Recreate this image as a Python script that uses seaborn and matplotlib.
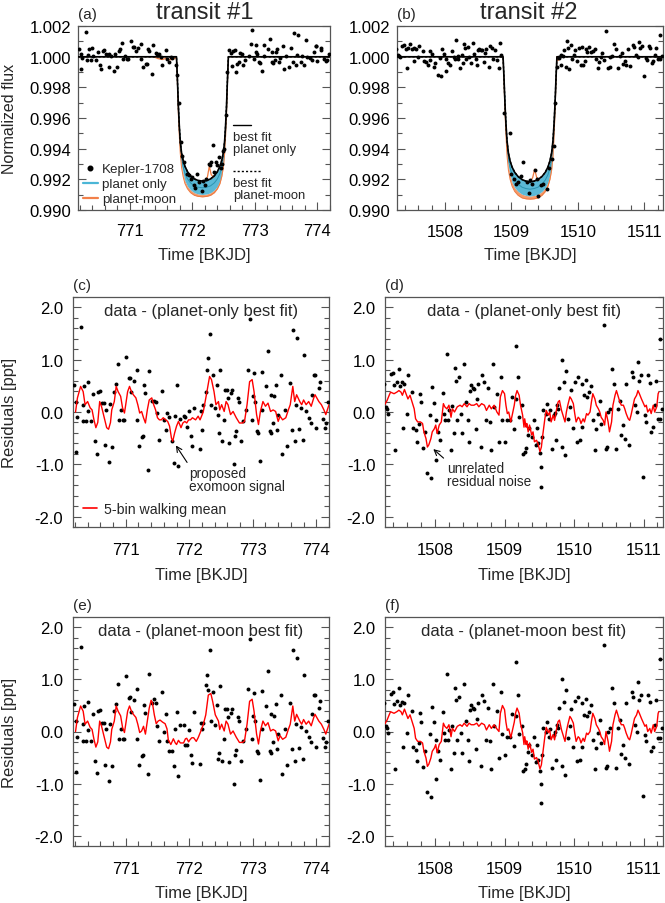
import matplotlib
matplotlib.use("Agg")
import matplotlib.pyplot as plt
from matplotlib.lines import Line2D
from matplotlib.ticker import MultipleLocator, FormatStrFormatter
import seaborn as sns

# ---------------- data ----------------
# transit 1: residual time stamps [BKJD] and residuals [ppt]
t1 = [770.19, 770.21, 770.22, 770.24, 770.29, 770.32, 770.33, 770.35, 770.38, 770.40,
      770.41, 770.45, 770.49, 770.52, 770.54, 770.57, 770.59, 770.62, 770.66, 770.67,
      770.69, 770.74, 770.76, 770.79, 770.82, 770.84, 770.88, 770.89, 770.92, 770.95,
      770.97, 771.01, 771.05, 771.06, 771.09, 771.13, 771.17, 771.18, 771.21, 771.25,
      771.27, 771.29, 771.30, 771.35, 771.37, 771.41, 771.44, 771.47, 771.50, 771.52,
      771.57, 771.60, 771.63, 771.65, 771.68, 771.73, 771.76, 771.78, 771.81, 771.83,
      771.86, 771.91, 771.94, 771.97, 771.99, 772.02, 772.04, 772.07, 772.17, 772.18,
      772.20, 772.22, 772.26, 772.28, 772.30, 772.33, 772.35, 772.38, 772.40, 772.43,
      772.46, 772.47, 772.49, 772.51, 772.54, 772.56, 772.59, 772.61, 772.63, 772.65,
      772.68, 772.70, 772.72, 772.74, 772.76, 772.79, 772.81, 772.84, 772.90, 772.93,
      772.95, 772.98, 773.01, 773.02, 773.03, 773.07, 773.08, 773.11, 773.14, 773.15,
      773.21, 773.24, 773.27, 773.28, 773.29, 773.32, 773.33, 773.36, 773.38, 773.40,
      773.45, 773.46, 773.50, 773.54, 773.58, 773.61, 773.63, 773.66, 773.68, 773.69,
      773.73, 773.76, 773.79, 773.81, 773.84, 773.88, 773.92, 773.94, 773.97, 773.98,
      773.99, 774.05, 774.06, 774.10, 774.13, 774.15, 774.18]
res1_planet = [0.52, 0.20, -0.77, -0.10, 1.63, -0.18, 0.14, 0.49, -0.18, 0.57,
               0.02, -0.18, 0.34, -0.56, -0.80, 0.39, 0.41, 0.17, 0.17, -0.64,
               0.04, -0.96, 0.15, -0.67, 0.39, 0.53, 0.92, -0.15, 0.04, -0.15,
               -0.15, 1.06, 0.65, 0.66, 0.38, 0.60, -0.15, 0.81, -0.65, -0.48,
               -0.46, 0.51, 0.36, -1.10, 0.79, 0.22, 0.21, 0.20, -0.02, -0.53,
               0.41, -0.15, -0.34, -0.02, -0.10, -0.56, -0.97, -0.08, 0.52, -1.03,
               -0.13, -0.08, -0.10, -0.29, 0.02, -0.46, -0.65, 0.08, -0.70, 0.01,
               -0.34, 0.14, 0.39, 0.81, 1.03, 1.50, 0.14, 0.71, 0.08, 0.51,
               -0.05, -0.41, 0.81, -0.56, -0.15, 0.43, 0.43, 0.27, -0.59, 0.36,
               0.43, -1.00, -0.46, -0.36, 0.27, 0.20, -0.56, -0.18, 0.04, 0.81,
               1.78, -0.15, 0.30, 0.74, 0.20, -0.37, -0.41, -0.94, 0.77, 0.04,
               0.49, 1.16, -0.37, 0.33, -0.41, -0.21, 0.30, 0.52, -0.34, -0.05,
               0.71, -0.81, 0.04, -0.65, 0.55, -0.34, 1.57, -0.56, 0.14, 1.41,
               -0.32, 0.08, -0.53, 1.09, 0.01, -0.11, -0.21, 0.33, 0.71, 0.70,
               -0.30, 0.46, 0.58, -0.13, -0.30, -0.21, 0.20]
res1_moon = [0.52, 0.20, -0.77, -0.10, 1.63, -0.18, 0.14, 0.49, -0.18, 0.57,
             0.02, -0.18, 0.34, -0.56, -0.80, 0.39, 0.41, 0.17, 0.17, -0.64,
             0.04, -0.96, 0.15, -0.67, 0.39, 0.53, 0.92, -0.15, 0.04, -0.15,
             -0.15, 1.06, 0.65, 0.66, 0.38, 0.60, -0.15, 0.81, -0.65, -0.48,
             -0.46, 0.51, 0.36, -0.81, 1.11, 0.55, 0.63, 0.55, 0.10, -0.19,
             0.75, 0.00, 0.33, -0.19, -0.38, -0.38, -0.67, 0.05, 0.38, -0.86,
             0.13, 0.13, -0.25, -0.25, 0.02, -0.46, -0.60, 0.37, -0.63, 0.17,
             0.05, 0.17, 0.89, 1.08, 0.80, 1.56, 0.20, 0.75, 0.12, 0.51,
             -0.52, -0.41, 0.87, -0.56, -0.15, 0.43, 0.43, 0.27, -0.59, 0.36,
             0.43, -1.00, -0.46, -0.36, 0.27, 0.20, -0.56, -0.18, 0.04, 0.81,
             1.78, -0.15, 0.30, 0.74, 0.20, -0.37, -0.41, -0.94, 0.77, 0.04,
             0.49, 1.16, -0.37, 0.33, -0.41, -0.21, 0.30, 0.52, -0.34, -0.05,
             0.71, -0.81, 0.04, -0.65, 0.55, -0.34, 1.57, -0.56, 0.14, 1.41,
             -0.32, 0.08, -0.53, 1.09, 0.01, -0.11, -0.21, 0.33, 0.71, 0.70,
             -0.30, 0.46, 0.58, -0.13, -0.30, -0.21, 0.20]

# transit 1: normalized flux (out of transit points share the residual time stamps)
flux1_before = [1.00052, 1.00020, 0.99923, 0.99990, 1.00163, 0.99982, 1.00014, 1.00049, 0.99982, 1.00057,
                1.00002, 0.99982, 1.00034, 0.99944, 0.99920, 1.00039, 1.00041, 1.00017, 1.00017, 0.99936,
                1.00004, 0.99904, 1.00015, 0.99933, 1.00039, 1.00053, 1.00092, 0.99985, 1.00004, 0.99985,
                0.99985, 1.00106, 1.00065, 1.00066, 1.00038, 1.00060, 0.99985, 1.00081, 0.99935, 0.99952,
                0.99954, 1.00051, 1.00036, 0.99890, 1.00079, 1.00022, 1.00021, 1.00020, 0.99998, 0.99947,
                1.00041, 0.99985, 0.99966, 0.99998, 0.99990, 0.99944]
t1_transit = [771.76, 771.78, 771.81, 771.83, 771.86, 771.91, 771.94, 771.97, 771.99, 772.02,
              772.04, 772.07, 772.11, 772.15, 772.17, 772.20, 772.22, 772.26, 772.28, 772.30,
              772.33, 772.35, 772.38, 772.40, 772.42, 772.45, 772.47, 772.49, 772.51, 772.54, 772.56]
flux1_transit = [0.99880, 0.99700, 0.99440, 0.99350, 0.99310, 0.99235, 0.99230, 0.99200, 0.99215, 0.99160,
                 0.99140, 0.99235, 0.99180, 0.99126, 0.99188, 0.99160, 0.99200, 0.99300, 0.99290, 0.99310,
                 0.99424, 0.99250, 0.99311, 0.99290, 0.99344, 0.99272, 0.99300, 0.99387, 0.99400, 0.99620, 0.99900]
flux1_after = [1.00043, 1.00027, 0.99941, 1.00036,
               1.00043, 0.99900, 0.99954, 0.99964, 1.00027, 1.00020, 0.99944, 0.99982, 1.00004, 1.00081,
               1.00178, 0.99985, 1.00030, 1.00074, 1.00020, 0.99963, 0.99959, 0.99906, 1.00077, 1.00004,
               1.00049, 1.00116, 0.99963, 1.00033, 0.99959, 0.99979, 1.00030, 1.00052, 0.99966, 0.99995,
               1.00071, 0.99919, 1.00004, 0.99935, 1.00055, 0.99966, 1.00157, 0.99944, 1.00014, 1.00141,
               0.99968, 1.00008, 0.99947, 1.00109, 1.00001, 0.99989, 0.99979, 1.00033, 1.00071, 1.00070,
               0.99970, 1.00046, 1.00058, 0.99987, 0.99970, 0.99979, 1.00020]

# transit 2: residual time stamps and residuals [ppt]
t2 = [1507.27, 1507.29, 1507.31, 1507.32, 1507.36, 1507.39, 1507.41, 1507.43, 1507.45, 1507.48,
      1507.50, 1507.53, 1507.54, 1507.56, 1507.59, 1507.61, 1507.67, 1507.69, 1507.72, 1507.74,
      1507.77, 1507.78, 1507.80, 1507.83, 1507.85, 1507.89, 1507.93, 1507.94, 1507.96, 1507.99,
      1508.01, 1508.02, 1508.04, 1508.07, 1508.11, 1508.13, 1508.15, 1508.17, 1508.19, 1508.20,
      1508.23, 1508.25, 1508.27, 1508.28, 1508.30, 1508.32, 1508.35, 1508.37, 1508.39, 1508.42,
      1508.44, 1508.47, 1508.49, 1508.50, 1508.52, 1508.54, 1508.56, 1508.59, 1508.60, 1508.62,
      1508.66, 1508.68, 1508.71, 1508.73, 1508.76, 1508.79, 1508.81, 1508.83, 1508.85, 1508.89,
      1508.92, 1508.95, 1508.97, 1509.00, 1509.04, 1509.08, 1509.11, 1509.14, 1509.16, 1509.17,
      1509.19, 1509.21, 1509.25, 1509.26, 1509.30, 1509.31, 1509.34, 1509.35, 1509.39, 1509.42,
      1509.45, 1509.47, 1509.48, 1509.51, 1509.52, 1509.53, 1509.54, 1509.56, 1509.59, 1509.61,
      1509.64, 1509.66, 1509.69, 1509.71, 1509.72, 1509.74, 1509.75, 1509.77, 1509.79, 1509.82,
      1509.83, 1509.85, 1509.87, 1509.89, 1509.91, 1509.94, 1509.96, 1509.98, 1510.01, 1510.04,
      1510.06, 1510.08, 1510.11, 1510.12, 1510.14, 1510.17, 1510.19, 1510.22, 1510.25, 1510.27,
      1510.30, 1510.32, 1510.35, 1510.37, 1510.39, 1510.43, 1510.46, 1510.48, 1510.49, 1510.52,
      1510.55, 1510.57, 1510.60, 1510.63, 1510.66, 1510.68, 1510.71, 1510.73, 1510.75, 1510.79,
      1510.83, 1510.85, 1510.87, 1510.90, 1510.92, 1510.94, 1510.97, 1510.99, 1511.02, 1511.04,
      1511.07, 1511.09, 1511.11, 1511.13, 1511.16, 1511.18, 1511.21, 1511.23, 1511.24, 1511.27]
res2_planet = [0.54, 0.10, 0.06, -0.03, 0.73, 0.75, 0.52, -0.73, 0.58, 0.83,
               0.50, 0.57, -0.30, 0.54, -0.03, 0.71, 0.39, -0.30, -0.35, -0.57,
               -0.22, 0.35, 0.19, -0.69, -0.38, -1.17, -0.05, -1.26, 0.48, 0.18,
               -0.92, -0.16, -0.38, -0.54, 0.37, -0.03, -0.16, 1.11, -0.16, 0.03,
               -0.73, 0.11, -0.41, 0.84, 0.60, -0.16, 0.67, -0.03, -0.41, 0.92,
               0.20, -0.16, -0.57, 0.41, 0.51, 0.45, 0.44, -0.33, 0.24, 0.54,
               -0.67, 0.71, 0.58, -0.16, 0.46, -0.19, -0.73, 0.92, 0.10, 0.35,
               -0.57, 0.67, -0.16, -0.57, -0.16, -0.16, 0.29, -0.33, 1.27, 0.25,
               0.67, -0.10, 0.13, -0.81, -0.76, -0.69, -0.44, -0.30, -0.48, -0.16,
               -0.63, -0.30, -0.60, -0.79, -1.05, -1.43, -0.48, 0.03, -0.03, 0.16,
               -0.13, 0.03, -0.70, -0.06, -0.01, -0.54, 0.13, 0.06, 0.46, -0.67,
               1.00, 0.57, -0.83, 0.79, -0.13, 0.10, 0.43, -0.30, 0.58, -0.57,
               0.67, -0.54, -0.29, 0.54, 0.32, 0.62, 0.29, 0.38, 0.50, -0.16,
               -0.73, -0.32, -0.03, 0.22, -0.22, 1.66, -0.71, -0.67, 0.00, 0.06,
               0.83, 0.54, -0.71, 0.06, 0.22, -0.44, -0.25, -0.51, 0.54, -0.63,
               0.76, 0.67, 0.13, 0.00, 0.95, 0.60, 0.70, -1.24, -0.06, -0.19,
               0.70, 0.56, -0.38, -0.29, 0.13, 0.60, -0.13, 1.40, -0.13, 0.06]
res2_moon = [0.54, 0.10, 0.06, -0.03, 0.73, 0.75, 0.52, -0.73, 0.58, 0.83,
             0.50, 0.57, -0.30, 0.54, -0.03, 0.71, 0.39, -0.30, -0.35, -0.57,
             -0.22, 0.35, 0.19, -0.69, -0.38, -1.17, -0.05, -1.26, 0.48, 0.18,
             -0.92, -0.16, -0.38, -0.54, 0.37, -0.03, -0.16, 1.11, -0.16, 0.03,
             -0.73, 0.11, -0.41, 0.84, 0.60, -0.16, 0.67, -0.03, -0.41, 0.92,
             0.20, -0.16, -0.57, 0.41, 0.51, 0.45, 0.44, -0.33, 0.24, 0.54,
             -0.67, 0.71, 0.58, -0.16, 0.46, -0.19, -0.73, 0.92, 0.10, 0.40,
             -0.50, 0.75, -0.05, -0.45, -0.10, -0.10, 0.33, -0.28, 1.33, 0.30,
             0.70, -0.05, 0.10, -0.75, -0.72, -0.62, -0.40, -0.26, -0.45, -0.10,
             -0.58, -0.25, -0.55, -0.75, -1.00, -1.38, -0.45, 0.06, 0.00, 0.18,
             -0.10, 0.05, -0.70, -0.06, -0.01, -0.54, 0.13, 0.06, 0.46, -0.67,
             1.00, 0.57, -0.83, 0.79, -0.13, 0.10, 0.43, -0.30, 0.58, -0.57,
             0.67, -0.54, -0.29, 0.54, 0.32, 0.62, 0.29, 0.38, 0.50, -0.16,
             -0.73, -0.32, -0.03, 0.22, -0.22, 1.66, -0.71, -0.67, 0.00, 0.06,
             0.83, 0.54, -0.71, 0.06, 0.22, -0.44, -0.25, -0.51, 0.54, -0.63,
             0.76, 0.67, 0.13, 0.00, 0.95, 0.60, 0.70, -1.24, -0.06, -0.19,
             0.70, 0.56, -0.38, -0.29, 0.13, 0.60, -0.13, 1.40, -0.13, 0.06]

flux2_before = [1.00054, 1.00010, 1.00006, 0.99997, 1.00073, 1.00075, 1.00052, 0.99927, 1.00058, 1.00083,
                1.00050, 1.00057, 0.99970, 1.00054, 0.99997, 1.00071, 1.00039, 0.99970, 0.99965, 0.99943,
                0.99978, 1.00035, 1.00019, 0.99931, 0.99962, 0.99883, 0.99995, 0.99874, 1.00048, 1.00018,
                0.99908, 0.99984, 0.99962, 0.99946, 1.00037, 0.99997, 0.99984, 1.00111, 0.99984, 1.00003,
                0.99927, 1.00011, 0.99959, 1.00084, 1.00060, 0.99984, 1.00067, 0.99997, 0.99959, 1.00092,
                1.00020, 0.99984, 0.99943, 1.00041, 1.00051, 1.00045, 1.00044, 0.99967, 1.00024, 1.00054,
                0.99933, 1.00071, 1.00058, 0.99984, 1.00046, 0.99981, 0.99927, 1.00092, 1.00010]
t2_transit = [1508.89, 1508.98, 1509.00, 1509.04, 1509.07, 1509.10, 1509.15, 1509.18, 1509.23, 1509.27,
              1509.28, 1509.31, 1509.36, 1509.38, 1509.40, 1509.44, 1509.47, 1509.53, 1509.56, 1509.61,
              1509.64, 1509.66]
flux2_transit = [0.99632, 0.99500, 0.99231, 0.99200, 0.99170, 0.99185, 0.99220, 0.99313, 0.99185, 0.99110,
                 0.99192, 0.99170, 0.99258, 0.99203, 0.99093, 0.99160, 0.99170, 0.99137, 0.99274, 0.99335,
                 0.99420, 0.99700]
flux2_after = [0.99930, 0.99994, 0.99999, 0.99946, 1.00013, 1.00006, 1.00046, 0.99933,
               1.00100, 1.00057, 0.99917, 1.00079, 0.99987, 1.00010, 1.00043, 0.99970, 1.00058, 0.99943,
               1.00067, 0.99946, 0.99971, 1.00054, 1.00032, 1.00062, 1.00029, 1.00038, 1.00050, 0.99984,
               0.99927, 0.99968, 0.99997, 1.00022, 0.99978, 1.00166, 0.99929, 0.99933, 1.00000, 1.00006,
               1.00083, 1.00054, 0.99929, 1.00006, 1.00022, 0.99956, 0.99975, 0.99949, 1.00054, 0.99937,
               1.00076, 1.00067, 1.00013, 1.00000, 1.00095, 1.00060, 1.00070, 0.99876, 0.99994, 0.99981,
               1.00070, 1.00056, 0.99962, 0.99971, 1.00013, 1.00060, 0.99987, 1.00140, 0.99987, 1.00006]

# 5-bin walking mean, traced vertices
red1_t = [770.21, 770.24, 770.29, 770.33, 770.36, 770.40, 770.44, 770.47, 770.50, 770.53,
          770.56, 770.59, 770.62, 770.66, 770.70, 770.73, 770.76, 770.78, 770.82, 770.85,
          770.88, 770.92, 770.95, 770.98, 771.00, 771.03, 771.06, 771.09, 771.12, 771.16,
          771.19, 771.22, 771.25, 771.28, 771.31, 771.34, 771.37, 771.41, 771.44, 771.47,
          771.50, 771.53, 771.56, 771.59, 771.63, 771.66, 771.69, 771.72, 771.74, 771.77,
          771.80, 771.83, 771.87, 771.90, 771.93, 771.96, 771.99, 772.02, 772.05, 772.10,
          772.14, 772.17, 772.22, 772.27, 772.32, 772.35, 772.39, 772.42, 772.46, 772.48,
          772.51, 772.55, 772.58, 772.61, 772.65, 772.69, 772.74, 772.79, 772.84, 772.87,
          772.91, 772.95, 772.99, 773.02, 773.06, 773.09, 773.12, 773.16, 773.20, 773.24,
          773.28, 773.32, 773.36, 773.40, 773.43, 773.47, 773.52, 773.56, 773.59, 773.63,
          773.66, 773.69, 773.74, 773.77, 773.80, 773.84, 773.88, 773.92, 773.96, 773.98,
          774.04, 774.08, 774.12, 774.15, 774.20]
red1_planet = [0.00, 0.27, 0.49, 0.39, 0.14, 0.20, 0.08, 0.04, -0.15, -0.30,
               -0.20, 0.20, 0.10, -0.10, -0.30, -0.33, -0.20, 0.04, 0.20, 0.49,
               0.39, 0.30, 0.08, -0.02, 0.14, 0.39, 0.49, 0.39, 0.33, 0.27,
               0.14, -0.02, 0.01, -0.11, -0.21, 0.04, 0.23, 0.27, 0.14, 0.04,
               -0.11, -0.15, -0.15, -0.11, -0.15, -0.18, -0.27, -0.50, -0.56, -0.40,
               -0.27, -0.18, -0.30, -0.21, -0.18, -0.21, -0.15, -0.15, -0.11, -0.15,
               -0.08, -0.15, 0.00, 0.33, 0.68, 0.62, 0.39, 0.14, 0.20, 0.04,
               0.14, 0.01, 0.20, 0.14, -0.05, 0.01, -0.11, -0.21, -0.21, -0.18,
               0.14, 0.58, 0.62, 0.39, -0.05, -0.24, 0.01, 0.20, 0.11, 0.17,
               0.01, 0.04, 0.01, -0.18, -0.08, -0.15, -0.11, 0.04, 0.14, 0.49,
               0.20, 0.33, 0.20, 0.14, 0.23, 0.14, 0.20, 0.11, 0.27, 0.33,
               0.20, 0.14, 0.04, -0.05, 0.14]
red1m_t = [770.21, 770.24, 770.29, 770.33, 770.36, 770.40, 770.44, 770.47, 770.50, 770.53,
           770.56, 770.59, 770.62, 770.66, 770.70, 770.73, 770.76, 770.78, 770.82, 770.85,
           770.88, 770.92, 770.95, 770.98, 771.00, 771.03, 771.06, 771.09, 771.12, 771.16,
           771.19, 771.22, 771.25, 771.28, 771.31, 771.34, 771.37, 771.40, 771.42, 771.45,
           771.48, 771.51, 771.54, 771.58, 771.62, 771.65, 771.67, 771.71, 771.75, 771.78,
           771.80, 771.83, 771.86, 771.91, 771.94, 771.96, 771.99, 772.01, 772.04, 772.07,
           772.11, 772.14, 772.18, 772.22, 772.26, 772.30, 772.34, 772.37, 772.41, 772.46,
           772.48, 772.51, 772.55, 772.58, 772.61, 772.65, 772.69, 772.74, 772.79, 772.84,
           772.87, 772.91, 772.95, 772.99, 773.02, 773.06, 773.09, 773.12, 773.16, 773.20,
           773.24, 773.28, 773.32, 773.36, 773.40, 773.43, 773.47, 773.52, 773.56, 773.59,
           773.63, 773.66, 773.69, 773.74, 773.77, 773.80, 773.84, 773.88, 773.92, 773.96,
           773.98, 774.04, 774.08, 774.12, 774.15, 774.20]
red1_moon = [0.00, 0.27, 0.49, 0.39, 0.14, 0.20, 0.08, 0.04, -0.15, -0.30,
             -0.20, 0.20, 0.10, -0.10, -0.30, -0.33, -0.20, 0.04, 0.20, 0.49,
             0.39, 0.30, 0.08, -0.02, 0.14, 0.39, 0.49, 0.39, 0.33, 0.27,
             0.14, -0.02, 0.01, 0.10, -0.05, 0.20, 0.45, 0.60, 0.55, 0.32,
             0.15, 0.20, 0.22, 0.18, 0.15, 0.05, -0.16, -0.25, -0.14, -0.22,
             -0.25, -0.17, -0.22, -0.22, -0.14, -0.13, -0.20, -0.16, -0.12, -0.12,
             -0.19, -0.12, 0.00, 0.13, 0.32, 0.70, 0.73, 0.57, 0.32, 0.20,
             0.04, 0.14, 0.01, 0.20, 0.14, -0.05, 0.01, -0.11, -0.21, -0.21,
             -0.18, 0.14, 0.58, 0.62, 0.39, -0.05, -0.24, 0.01, 0.20, 0.11,
             0.17, 0.01, 0.04, 0.01, -0.18, -0.08, -0.15, -0.11, 0.04, 0.14,
             0.49, 0.20, 0.33, 0.20, 0.14, 0.23, 0.14, 0.20, 0.11, 0.27,
             0.33, 0.20, 0.14, 0.04, -0.05, 0.14]
red2_t = [1507.27, 1507.31, 1507.34, 1507.36, 1507.41, 1507.45, 1507.48, 1507.51, 1507.53, 1507.56,
          1507.59, 1507.61, 1507.64, 1507.67, 1507.70, 1507.72, 1507.75, 1507.79, 1507.82, 1507.84,
          1507.87, 1507.89, 1507.91, 1507.94, 1507.96, 1507.99, 1508.01, 1508.03, 1508.06, 1508.09,
          1508.12, 1508.14, 1508.17, 1508.20, 1508.23, 1508.25, 1508.28, 1508.32, 1508.36, 1508.39,
          1508.42, 1508.46, 1508.49, 1508.52, 1508.56, 1508.60, 1508.63, 1508.67, 1508.71, 1508.74,
          1508.78, 1508.81, 1508.85, 1508.89, 1508.92, 1508.94, 1508.97, 1509.00, 1509.02, 1509.04,
          1509.06, 1509.09, 1509.11, 1509.14, 1509.16, 1509.18, 1509.21, 1509.23, 1509.26, 1509.28,
          1509.29, 1509.31, 1509.32, 1509.34, 1509.36, 1509.39, 1509.41, 1509.43, 1509.46, 1509.48,
          1509.51, 1509.53, 1509.55, 1509.58, 1509.60, 1509.63, 1509.65, 1509.67, 1509.70, 1509.72,
          1509.75, 1509.77, 1509.79, 1509.82, 1509.84, 1509.87, 1509.89, 1509.91, 1509.94, 1509.96,
          1509.99, 1510.01, 1510.03, 1510.06, 1510.08, 1510.10, 1510.13, 1510.15, 1510.18, 1510.20,
          1510.23, 1510.25, 1510.27, 1510.30, 1510.32, 1510.35, 1510.37, 1510.39, 1510.42, 1510.44,
          1510.46, 1510.49, 1510.51, 1510.54, 1510.56, 1510.59, 1510.61, 1510.63, 1510.66, 1510.68,
          1510.71, 1510.73, 1510.75, 1510.78, 1510.80, 1510.82, 1510.85, 1510.87, 1510.90, 1510.92,
          1510.94, 1510.97, 1510.99, 1511.02, 1511.04, 1511.06, 1511.09, 1511.11, 1511.14, 1511.16,
          1511.19, 1511.21, 1511.22]
red2_planet = [0.13, 0.22, 0.32, 0.38, 0.35, 0.38, 0.41, 0.38, 0.32, 0.43,
               0.32, 0.25, 0.32, 0.19, 0.06, -0.13, -0.19, -0.19, -0.22, -0.38,
               -0.51, -0.67, -0.63, -0.51, -0.38, -0.32, -0.25, -0.41, -0.25, -0.19,
               0.16, 0.10, 0.06, 0.13, -0.10, 0.06, 0.00, 0.10, 0.13, 0.10,
               0.16, 0.10, 0.16, 0.13, 0.13, 0.16, 0.10, 0.16, 0.13, 0.03,
               0.13, 0.06, 0.13, 0.00, -0.06, 0.29, 0.41, 0.35, 0.13, -0.03,
               0.00, -0.19, -0.06, 0.13, 0.32, 0.41, 0.32, 0.13, -0.06, -0.29,
               -0.13, -0.29, -0.22, -0.38, -0.25, -0.44, -0.38, -0.57, -0.54, -0.60,
               -0.76, -0.67, -0.44, -0.13, 0.03, -0.06, 0.00, -0.19, -0.06, -0.16,
               0.06, 0.19, 0.22, 0.03, -0.06, -0.19, 0.00, 0.13, 0.29, 0.25,
               0.16, -0.03, -0.19, -0.10, -0.13, -0.22, -0.13, -0.19, -0.03, -0.06,
               0.00, 0.19, 0.35, 0.25, 0.13, 0.06, 0.00, -0.10, -0.16, -0.25,
               0.00, -0.19, -0.38, -0.19, 0.13, 0.32, 0.41, 0.32, 0.19, 0.13,
               0.13, 0.06, -0.03, -0.13, -0.16, -0.06, 0.13, 0.25, 0.32, 0.41,
               0.35, 0.25, 0.19, 0.10, 0.13, 0.00, 0.06, -0.03, 0.13, 0.00,
               0.10, 0.35, 0.38]
red2_moon = [0.13, 0.22, 0.32, 0.38, 0.35, 0.38, 0.41, 0.38, 0.32, 0.43,
             0.32, 0.25, 0.32, 0.19, 0.06, -0.13, -0.19, -0.19, -0.22, -0.38,
             -0.51, -0.67, -0.63, -0.51, -0.38, -0.32, -0.25, -0.41, -0.25, -0.19,
             0.16, 0.10, 0.06, 0.13, -0.10, 0.06, 0.00, 0.10, 0.13, 0.10,
             0.16, 0.10, 0.16, 0.13, 0.13, 0.16, 0.10, 0.16, 0.13, 0.03,
             0.13, 0.06, 0.13, 0.05, 0.00, 0.35, 0.50, 0.42, 0.18, 0.02,
             0.05, -0.12, 0.00, 0.18, 0.36, 0.45, 0.35, 0.15, -0.02, -0.25,
             -0.10, -0.25, -0.18, -0.34, -0.22, -0.40, -0.34, -0.53, -0.50, -0.56,
             -0.72, -0.64, -0.42, -0.10, 0.08, -0.02, 0.03, -0.16, -0.06, -0.16,
             0.06, 0.19, 0.22, 0.03, -0.06, -0.19, 0.00, 0.13, 0.29, 0.25,
             0.16, -0.03, -0.19, -0.10, -0.13, -0.22, -0.13, -0.19, -0.03, -0.06,
             0.00, 0.19, 0.35, 0.25, 0.13, 0.06, 0.00, -0.10, -0.16, -0.25,
             0.00, -0.19, -0.38, -0.19, 0.13, 0.32, 0.41, 0.32, 0.19, 0.13,
             0.13, 0.06, -0.03, -0.13, -0.16, -0.06, 0.13, 0.25, 0.32, 0.41,
             0.35, 0.25, 0.19, 0.10, 0.13, 0.00, 0.06, -0.03, 0.13, 0.00,
             0.10, 0.35, 0.38]

# transit models (best fit + envelope of posterior draws)
t1_model = [770.10, 771.745, 771.76, 771.775, 771.79, 771.805, 771.825, 771.85, 771.88, 771.92,
            771.97, 772.03, 772.09, 772.16, 772.23, 772.29, 772.35, 772.40, 772.44, 772.47,
            772.495, 772.515, 772.53, 772.545, 772.56, 772.575, 774.30]
f1_planet = [1.0, 1.0, 0.9985, 0.9968, 0.9955, 0.9945, 0.99375, 0.99325, 0.99285, 0.9925,
             0.99222, 0.99202, 0.99192, 0.99188, 0.99192, 0.99202, 0.99222, 0.9925, 0.99285, 0.99325,
             0.99375, 0.9945, 0.9955, 0.9968, 0.9985, 1.0, 1.0]
f1_blue_mid = [1.0, 1.0, 0.9984, 0.9966, 0.99525, 0.9942, 0.99338, 0.99283, 0.99238, 0.99203,
               0.99176, 0.99157, 0.99148, 0.99144, 0.99148, 0.99157, 0.99176, 0.99203, 0.99238, 0.99283,
               0.99338, 0.9942, 0.99525, 0.9966, 0.9984, 1.0, 1.0]
f1_blue_lo = [1.0, 1.0, 0.9983, 0.9964, 0.9950, 0.9939, 0.9930, 0.9924, 0.9919, 0.99155,
              0.9913, 0.99112, 0.99104, 0.9910, 0.99104, 0.99112, 0.9913, 0.99155, 0.9919, 0.9924,
              0.9930, 0.9939, 0.9950, 0.9964, 0.9983, 1.0, 1.0]
f1_orange_lo = [1.0, 1.0, 0.9982, 0.9962, 0.9948, 0.9937, 0.9928, 0.9922, 0.99172, 0.99138,
                0.99112, 0.99095, 0.99088, 0.99085, 0.99088, 0.99095, 0.99112, 0.99138, 0.99172, 0.9922,
                0.9928, 0.9937, 0.9948, 0.9962, 0.9982, 1.0, 1.0]
t2_model = [1507.20, 1508.875, 1508.89, 1508.905, 1508.92, 1508.935, 1508.955, 1508.98, 1509.01, 1509.05,
            1509.10, 1509.16, 1509.22, 1509.28, 1509.34, 1509.40, 1509.46, 1509.51, 1509.55, 1509.58,
            1509.605, 1509.625, 1509.64, 1509.655, 1509.67, 1509.685, 1511.40]
f2_planet = [1.0, 1.0, 0.9985, 0.9968, 0.9955, 0.9945, 0.99372, 0.9932, 0.9928, 0.99245,
             0.99218, 0.99198, 0.99187, 0.99183, 0.99187, 0.99198, 0.99218, 0.99245, 0.9928, 0.9932,
             0.99372, 0.9945, 0.9955, 0.9968, 0.9985, 1.0, 1.0]
f2_blue_mid = [1.0, 1.0, 0.9984, 0.9966, 0.9952, 0.9941, 0.9933, 0.99275, 0.9923, 0.99195,
               0.99168, 0.99148, 0.99139, 0.99135, 0.99139, 0.99148, 0.99168, 0.99195, 0.9923, 0.99275,
               0.9933, 0.9941, 0.9952, 0.9966, 0.9984, 1.0, 1.0]
f2_blue_lo = [1.0, 1.0, 0.9983, 0.9964, 0.9950, 0.9938, 0.9929, 0.9923, 0.9918, 0.99145,
              0.9912, 0.99102, 0.99094, 0.9909, 0.99094, 0.99102, 0.9912, 0.99145, 0.9918, 0.9923,
              0.9929, 0.9938, 0.9950, 0.9964, 0.9983, 1.0, 1.0]
f2_orange_lo = [1.0, 1.0, 0.9982, 0.9962, 0.9947, 0.9935, 0.9926, 0.9920, 0.99155, 0.9912,
                0.99095, 0.99078, 0.99072, 0.9907, 0.99072, 0.99078, 0.99095, 0.9912, 0.99155, 0.9920,
                0.9926, 0.9935, 0.9947, 0.9962, 0.9982, 1.0, 1.0]
# small planet-moon model wiggles
moon1_pre_t = [771.38, 771.45, 771.52, 771.58, 771.64, 771.70, 771.745]
moon1_pre_f = [1.0, 0.99988, 0.99982, 0.99990, 0.99980, 0.99985, 0.99995]
moon1_bump_t = [772.20, 772.24, 772.27, 772.30, 772.34]
moon1_bump_f = [0.99192, 0.99215, 0.99285, 0.99230, 0.99212]
moon2_bump_t = [1509.28, 1509.32, 1509.35, 1509.38, 1509.42]
moon2_bump_f = [0.99183, 0.99210, 0.99265, 0.99212, 0.99196]
moon2_tail_t = [1509.685, 1509.70, 1509.73, 1509.76, 1509.80]
moon2_tail_f = [1.0, 0.99975, 0.99990, 1.00006, 1.0]

xlim1 = (770.17, 774.2)
xlim2 = (1507.28, 1511.28)

# ---------------- figure ----------------
sns.set_theme(style="ticks")
plt.rcParams["font.family"] = ["Liberation Sans", "DejaVu Sans"]
plt.rcParams["axes.unicode_minus"] = False

W, H = 665, 904
fig = plt.figure(figsize=(W / 100, H / 100), dpi=100)


def box(x0, y0, x1, y1):
    return fig.add_axes([x0 / W, 1 - y1 / H, (x1 - x0) / W, (y1 - y0) / H])


def style(ax, xlim, ylim, ymaj, ymin, yfmt, xpad, ypad, lpad):
    ax.set_xlim(xlim)
    ax.set_ylim(ylim)
    ax.xaxis.set_major_locator(MultipleLocator(1))
    ax.xaxis.set_minor_locator(MultipleLocator(0.2))
    ax.yaxis.set_major_locator(MultipleLocator(ymaj))
    ax.yaxis.set_minor_locator(MultipleLocator(ymin))
    ax.yaxis.set_major_formatter(FormatStrFormatter(yfmt))
    ax.tick_params(which="both", direction="in", left=True, right=True, top=False,
                   bottom=True, color="#555555", labelcolor="black", labelsize=12, width=0.8)
    ax.tick_params(which="major", length=6)
    ax.tick_params(which="minor", length=3.5)
    ax.tick_params(axis="x", pad=xpad)
    ax.tick_params(axis="y", pad=ypad)
    for s in ax.spines.values():
        s.set_color("#555555")
        s.set_linewidth(0.9)
    ax.set_xlabel("Time [BKJD]", fontsize=12, labelpad=lpad)
    ax.set_ylabel("")


def panel_label(ax, txt, hpx):
    ax.text(0.0, 1 + 12 / hpx, txt, transform=ax.transAxes, ha="left", va="center", fontsize=11)


BLUE = "#5BB9D6"
BLUE_D = "#2B93B0"
ORANGE = "#F39A6B"
ORANGE_D = "#EE7A40"


def flux_panel(ax, tm, fp, fmid, flo, folo, t_dots, f_dots, wiggles):
    ax.fill_between(tm, folo, flo, color=ORANGE, lw=0, zorder=1)
    ax.fill_between(tm, flo, fp, color=BLUE, lw=0, zorder=2)
    sns.lineplot(x=tm, y=fmid, ax=ax, color=BLUE_D, lw=0.7, estimator=None, sort=False, zorder=3)
    sns.lineplot(x=tm, y=folo, ax=ax, color=ORANGE_D, lw=0.7, estimator=None, sort=False, zorder=3)
    for wt, wf in wiggles:
        sns.lineplot(x=wt, y=wf, ax=ax, color=ORANGE_D, lw=0.9, estimator=None, sort=False, zorder=3)
    sns.lineplot(x=tm, y=fp, ax=ax, color="black", lw=1.2, estimator=None, sort=False, zorder=4)
    sns.lineplot(x=tm, y=fp, ax=ax, color="black", lw=1.0, ls=(0, (1.5, 1.5)),
                 estimator=None, sort=False, zorder=4)
    sns.scatterplot(x=t_dots, y=f_dots, ax=ax, color="black", s=8, linewidth=0, zorder=5)


def resid_panel(ax, t, r, rt, rv, title):
    sns.scatterplot(x=t, y=r, ax=ax, color="black", s=8, linewidth=0, zorder=3)
    sns.lineplot(x=rt, y=rv, ax=ax, color="red", lw=1.0, estimator=None, sort=False, zorder=4)
    ax.text(0.5, 0.94, title, transform=ax.transAxes, ha="center", va="center", fontsize=12)


# (a)
axa = box(78, 27, 330, 211)
flux_panel(axa, t1_model, f1_planet, f1_blue_mid, f1_blue_lo, f1_orange_lo,
           t1[:56] + t1_transit + t1[86:], flux1_before + flux1_transit + flux1_after,
           [(moon1_pre_t, moon1_pre_f), (moon1_bump_t, moon1_bump_f)])
style(axa, xlim1, (0.98999, 1.00201), 0.002, 0.001, "%.3f", 9, 5, 7)
panel_label(axa, "(a)", 184)
handles = [Line2D([], [], ls="none", marker="o", ms=3.3, color="black"),
           Line2D([], [], color="#4BB6D6", lw=1.6),
           Line2D([], [], color="#F2804A", lw=1.6)]
axa.legend(handles, ["Kepler-1708", "planet only", "planet-moon"], loc="upper left",
           bbox_to_anchor=(0.02, 0.255), frameon=False, fontsize=9.6, handlelength=1.1,
           handletextpad=0.35, labelspacing=0.2, borderpad=0, borderaxespad=0)
axa.plot([0.615, 0.685], [0.462, 0.462], transform=axa.transAxes, color="black", lw=1)
axa.text(0.615, 0.364, "best fit\nplanet only", transform=axa.transAxes, ha="left",
         va="center", fontsize=9.4, linespacing=1.05)
axa.plot([0.615, 0.73], [0.212, 0.212], transform=axa.transAxes, color="black", lw=1,
         ls=(0, (1.5, 1.5)))
axa.text(0.615, 0.114, "best fit\nplanet-moon", transform=axa.transAxes, ha="left",
         va="center", fontsize=9.4, linespacing=1.05)

# (b)
axb = box(397, 27, 663, 211)
flux_panel(axb, t2_model, f2_planet, f2_blue_mid, f2_blue_lo, f2_orange_lo,
           t2[:69] + t2_transit + t2[102:], flux2_before + flux2_transit + flux2_after,
           [(moon2_bump_t, moon2_bump_f), (moon2_tail_t, moon2_tail_f)])
style(axb, xlim2, (0.98999, 1.00201), 0.002, 0.001, "%.3f", 10, 5, 6)
panel_label(axb, "(b)", 184)

# (c)
axc = box(73, 298, 329, 528)
resid_panel(axc, t1, res1_planet, red1_t, red1_planet, "data - (planet-only best fit)")
style(axc, xlim1, (-2.2, 2.2), 1.0, 0.2, "%.1f", 11, 7, 7)
panel_label(axc, "(c)", 230)
axc.legend([Line2D([], [], color="red", lw=1.2)], ["5-bin walking mean"], loc="center left",
           bbox_to_anchor=(0.04, 0.078), frameon=False, fontsize=10.2, handlelength=1.0,
           handletextpad=0.45, borderpad=0, borderaxespad=0)
axc.annotate("proposed\nexomoon signal", xy=(771.79, -0.64), xytext=(772.0, -1.29),
             ha="left", va="center", fontsize=9.8, linespacing=0.95,
             arrowprops=dict(arrowstyle="->", color="black", lw=0.8, relpos=(0, 1),
                             shrinkA=0, shrinkB=0))

# (d)
axd = box(385, 298, 663, 528)
resid_panel(axd, t2, res2_planet, red2_t, red2_planet, "data - (planet-only best fit)")
style(axd, xlim2, (-2.2, 2.2), 1.0, 0.2, "%.1f", 11, 7, 7)
panel_label(axd, "(d)", 230)
axd.annotate("unrelated\nresidual noise", xy=(1507.975, -0.71), xytext=(1508.17, -1.20),
             ha="left", va="center", fontsize=9.8, linespacing=0.95,
             arrowprops=dict(arrowstyle="->", color="black", lw=0.8, relpos=(0, 1),
                             shrinkA=0, shrinkB=0))

# (e)
axe = box(73, 618, 329, 847)
resid_panel(axe, t1, res1_moon, red1m_t, red1_moon, "data - (planet-moon best fit)")
style(axe, xlim1, (-2.2, 2.2), 1.0, 0.2, "%.1f", 11, 7, 6)
panel_label(axe, "(e)", 229)

# (f)
axf = box(385, 618, 663, 847)
resid_panel(axf, t2, res2_moon, red2_t, red2_moon, "data - (planet-moon best fit)")
style(axf, xlim2, (-2.2, 2.2), 1.0, 0.2, "%.1f", 11, 7, 6)
panel_label(axf, "(f)", 229)

# titles and y labels
fig.text(205 / W, 1 - 13 / H, "transit #1", ha="center", va="center", fontsize=17)
fig.text(529 / W, 1 - 13 / H, "transit #2", ha="center", va="center", fontsize=17)
fig.text(10 / W, 1 - 119 / H, "Normalized flux", rotation=90, ha="center", va="center", fontsize=11.5)
fig.text(10 / W, 1 - 413 / H, "Residuals [ppt]", rotation=90, ha="center", va="center", fontsize=12)
fig.text(10 / W, 1 - 733 / H, "Residuals [ppt]", rotation=90, ha="center", va="center", fontsize=12)

fig.savefig("out.png", dpi=100)
